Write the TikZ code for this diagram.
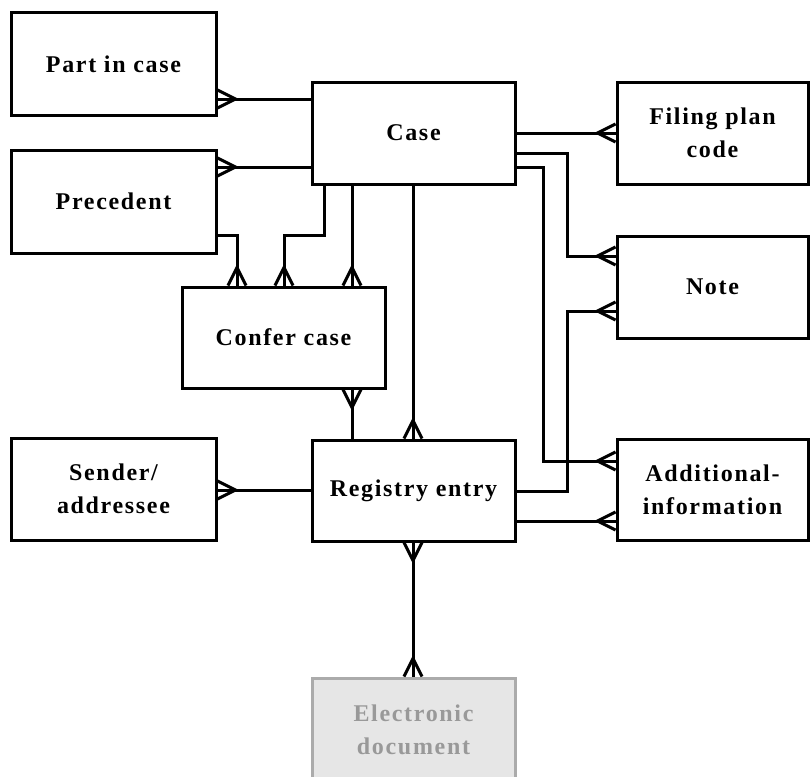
\documentclass[tikz,border=0pt]{standalone}
\usepackage{fontspec}
\setmainfont{Liberation Serif}[LetterSpace=7]
\usetikzlibrary{calc}
\definecolor{edocfill}{HTML}{E6E6E6}
\definecolor{edocline}{HTML}{ABABAB}
\definecolor{edoctext}{HTML}{999999}
\newcommand\crowfoot[3]{%
  \draw[conn] ($(#1)+({9*(#3)},{9*(#2)})$) -- ($(#1)+({18*(#2)},{18*(#3)})$) -- ($(#1)-({9*(#3)},{9*(#2)})$);}
\begin{document}
\begin{tikzpicture}[x=1pt,y=-1pt,
  lbl/.style={align=center, font=\fontsize{24}{33}\selectfont\bfseries},
  box/.style={lbl, draw=black, line width=3pt, fill=white, inner sep=0pt},
  conn/.style={draw=black, line width=3pt, line join=miter},
  edoc/.style={box, draw=edocline, fill=edocfill, text=edoctext}]
\useasboundingbox (0,0) rectangle (810,776);
% boxes
\node[box, minimum width=205, minimum height=103] (part) at (113.5,64) {Part in case};
\node[box, minimum width=205, minimum height=103] (prec) at (113.5,201.5) {Precedent};
\node[box, minimum width=205, minimum height=102] (sender) at (113.5,489) {Sender/\\addressee};
\node[box, minimum width=203, minimum height=102] (case) at (413.5,133) {Case};
\node[box, minimum width=203, minimum height=101] (confer) at (283.5,337.5) {Confer case};
\node[box, minimum width=203, minimum height=101] (reg) at (413.5,490.5) {Registry entry};
\node[box, minimum width=191, minimum height=102] (filing) at (712.5,133) {Filing plan\\code};
\node[box, minimum width=191, minimum height=102] (note) at (712.5,287) {Note};
\node[box, minimum width=191, minimum height=101] (addl) at (712.5,489.5) {Additional-\\information};
\node[edoc, minimum width=203, minimum height=112] (edoc) at (413.5,734) {};
\node[lbl, text=edoctext] (edoctxt) at (413.5,730) {Electronic\\document};
% connector end coordinates
\coordinate (p1) at (part.east |- 0,99);
\coordinate (c1) at (case.west |- 0,99);
\coordinate (p2) at (prec.east |- 0,167);
\coordinate (c2) at (case.west |- 0,167);
\coordinate (p3) at (prec.east |- 0,235);
\coordinate (f3) at (confer.north -| 237,0);
\coordinate (c4) at (case.south -| 324,0);
\coordinate (f4) at (confer.north -| 284,0);
\coordinate (c5) at (case.south -| 352,0);
\coordinate (f5) at (confer.north -| 352,0);
\coordinate (f6) at (confer.south -| 352,0);
\coordinate (r6) at (reg.north -| 352,0);
\coordinate (c7) at (case.south -| 413,0);
\coordinate (r7) at (reg.north -| 413,0);
\coordinate (s8) at (sender.east |- 0,490);
\coordinate (r8) at (reg.west |- 0,490);
\coordinate (r9) at (reg.south -| 413,0);
\coordinate (e9) at (edoc.north -| 413,0);
\coordinate (c10) at (case.east |- 0,133);
\coordinate (g10) at (filing.west |- 0,133);
\coordinate (c11) at (case.east |- 0,153);
\coordinate (n11) at (note.west |- 0,256);
\coordinate (c12) at (case.east |- 0,167);
\coordinate (a12) at (addl.west |- 0,461);
\coordinate (r13) at (reg.east |- 0,491);
\coordinate (n13) at (note.west |- 0,311);
\coordinate (r14) at (reg.east |- 0,521);
\coordinate (a14) at (addl.west |- 0,521);
% connectors
\draw[conn] (p1) -- (c1);
\draw[conn] (p2) -- (c2);
\draw[conn] (p3) -| (f3);
\draw[conn] (c4) |- (284,235) -- (f4);
\draw[conn] (c5) -- (f5);
\draw[conn] (f6) -- (r6);
\draw[conn] (c7) -- (r7);
\draw[conn] (s8) -- (r8);
\draw[conn] (r9) -- (e9);
\draw[conn] (c10) -- (g10);
\draw[conn] (c11) -| (567,256) -- (n11);
\draw[conn] (c12) -| (543,461) -- (a12);
\draw[conn] (r13) -| (567,311) -- (n13);
\draw[conn] (r14) -- (a14);
% crow's feet
\crowfoot{p1}{1}{0}
\crowfoot{p2}{1}{0}
\crowfoot{f3}{0}{-1}
\crowfoot{f4}{0}{-1}
\crowfoot{f5}{0}{-1}
\crowfoot{f6}{0}{1}
\crowfoot{r7}{0}{-1}
\crowfoot{s8}{1}{0}
\crowfoot{r9}{0}{1}
\crowfoot{e9}{0}{-1}
\crowfoot{g10}{-1}{0}
\crowfoot{n11}{-1}{0}
\crowfoot{a12}{-1}{0}
\crowfoot{n13}{-1}{0}
\crowfoot{a14}{-1}{0}
\end{tikzpicture}
\end{document}
